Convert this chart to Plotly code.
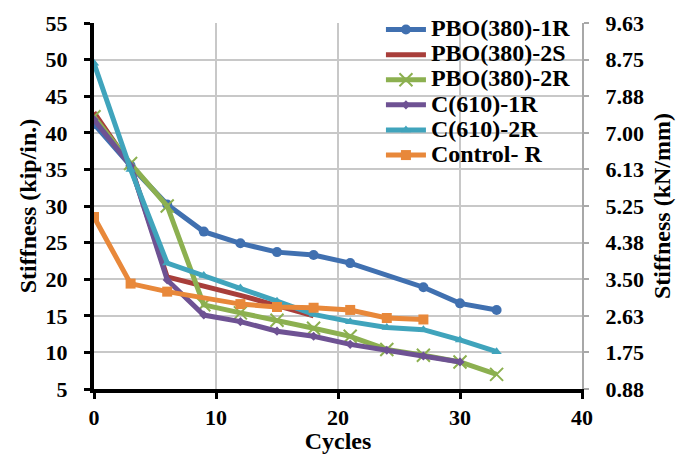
import plotly.graph_objects as go

# ---- data ----
names = ["PBO(380)-1R", "PBO(380)-2S", "PBO(380)-2R", "C(610)-1R", "C(610)-2R", "Control- R"]

pbo1r_x = [0, 3, 6, 9, 12, 15, 18, 21, 27, 30, 33]
pbo1r_y = [41.2, 35.5, 30.2, 26.5, 24.9, 23.7, 23.3, 22.2, 18.9, 16.7, 15.8]

pbo2s_x = [0, 3, 6, 9, 12, 15, 18]
pbo2s_y = [42.8, 35.5, 20.3, 19.1, 17.8, 16.4, 15.0]

pbo2r_x = [0, 3, 6, 9, 12, 15, 18, 21, 24, 27, 30, 33]
pbo2r_y = [42.2, 35.8, 30.0, 16.5, 15.4, 14.4, 13.3, 12.2, 10.4, 9.6, 8.7, 7.0]

c1r_x = [0, 3, 6, 9, 12, 15, 18, 21, 24, 27, 30]
c1r_y = [41.8, 35.5, 19.9, 15.1, 14.2, 12.9, 12.2, 11.1, 10.3, 9.5, 8.7]

c2r_x = [0, 3, 6, 9, 12, 15, 18, 21, 24, 27, 30, 33]
c2r_y = [49.5, 35.0, 22.2, 20.5, 18.8, 17.0, 15.2, 14.2, 13.4, 13.1, 11.7, 10.1]

ctrl_x = [0, 3, 6, 12, 15, 18, 21, 24, 27]
ctrl_y = [28.5, 19.4, 18.3, 16.6, 16.2, 16.1, 15.8, 14.7, 14.5]

left_ticks = [5, 10, 15, 20, 25, 30, 35, 40, 45, 50, 55]
left_ticktext = ["5", "10", "15", "20", "25", "30", "35", "40", "45", "50", "55"]
right_ticktext = ["0.88", "1.75", "2.63", "3.50", "4.38", "5.25", "6.13", "7.00", "7.88", "8.75", "9.63"]
x_ticks = [0, 10, 20, 30, 40]
x_ticktext = ["0", "10", "20", "30", "40"]

# ---- styles ----
colors = ["#4070B0", "#A83E3A", "#8CB050", "#6E5293", "#40A4BC", "#E8883A"]
symbols = ["circle", None, "x-thin", "diamond", "triangle-up", "square"]
msizes = [10, 0, 13, 7, 9, 10]

series = [(pbo1r_x, pbo1r_y), (pbo2s_x, pbo2s_y), (pbo2r_x, pbo2r_y),
          (c1r_x, c1r_y), (c2r_x, c2r_y), (ctrl_x, ctrl_y)]

FONT = "Liberation Serif"
TICK_FS = 22
TITLE_FS = 24

def bold(lst):
    return ["<b>%s</b>" % s for s in lst]

def legend_name(s):
    return '<span style="font-size:24px"><b>%s</b></span>' % s

fig = go.Figure()
for i, (xs, ys) in enumerate(series):
    if symbols[i] is None:
        fig.add_trace(go.Scatter(x=xs, y=ys, name=legend_name(names[i]), mode="lines",
                                 line=dict(color=colors[i], width=5)))
    else:
        mk = dict(symbol=symbols[i], size=msizes[i], color=colors[i])
        if symbols[i] == "x-thin":
            mk["line"] = dict(color=colors[i], width=2)
        fig.add_trace(go.Scatter(x=xs, y=ys, name=legend_name(names[i]), mode="lines+markers",
                                 line=dict(color=colors[i], width=5), marker=mk))

# invisible trace to show secondary axis
fig.add_trace(go.Scatter(x=[0, 40], y=[5, 55], yaxis="y2", mode="none",
                         showlegend=False, hoverinfo="skip"))

# white backing for the legend, drawn over gridlines but under traces
fig.add_shape(type="rect", xref="paper", yref="paper",
              x0=0.555, x1=0.996, y0=0.6, y1=0.995,
              fillcolor="white", line=dict(width=0), layer="between")

fig.update_layout(
    width=679, height=454,
    margin=dict(l=94, r=97, t=16, b=65),
    paper_bgcolor="white", plot_bgcolor="white",
    font=dict(family=FONT, size=TICK_FS, color="black"),
    showlegend=True,
    legend=dict(x=0.588, y=1.03, xanchor="left", yanchor="top",
                bgcolor="rgba(0,0,0,0)", borderwidth=0,
                font=dict(family=FONT, size=17, color="black"),
                tracegroupgap=0, itemwidth=40),
    xaxis=dict(range=[0, 40], tickvals=x_ticks, ticktext=bold(x_ticktext), showgrid=True,
               gridcolor="#C8C8C8", gridwidth=2, automargin=False,
               showline=True, linecolor="black", linewidth=4,
               ticks="outside", ticklen=6, tickwidth=3, tickcolor="black",
               ticklabelstandoff=0, ticklabeloverflow="allow",
               tickfont=dict(family=FONT, size=TICK_FS, color="black"),
               title=dict(text="<b>Cycles</b>", standoff=2,
                          font=dict(family=FONT, size=TITLE_FS, color="black")),
               zeroline=False),
    yaxis=dict(range=[5, 55], tickvals=left_ticks, ticktext=bold(left_ticktext), showgrid=True,
               gridcolor="#C8C8C8", gridwidth=2, automargin=False,
               showline=True, linecolor="black", linewidth=4,
               ticks="outside", ticklen=6, tickwidth=3, tickcolor="black",
               ticklabelstandoff=12, ticklabeloverflow="allow",
               tickfont=dict(family=FONT, size=TICK_FS, color="black"),
               title=dict(text="<b>Stiffness (kip/in.)</b>", standoff=3,
                          font=dict(family=FONT, size=TITLE_FS, color="black")),
               zeroline=False),
    yaxis2=dict(range=[5, 55], tickvals=left_ticks, ticktext=bold(right_ticktext),
                overlaying="y", side="right", showgrid=False, automargin=False,
                showline=True, linecolor="#A8A8A8", linewidth=2,
                ticks="outside", ticklen=5, tickwidth=2, tickcolor="#A8A8A8",
                ticklabelstandoff=12, ticklabeloverflow="allow",
                tickfont=dict(family=FONT, size=TICK_FS, color="black"),
                title=dict(text="<b>Stiffness (kN/mm)</b>", standoff=10,
                           font=dict(family=FONT, size=TITLE_FS, color="black")),
                zeroline=False),
)

fig.write_html("out.html", config={"displayModeBar": False},
               post_script="document.body.style.margin='0';")
